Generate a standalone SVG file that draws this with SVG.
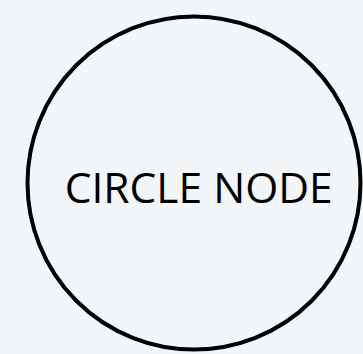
<svg xmlns="http://www.w3.org/2000/svg" width="363" height="354" viewBox="0 0 363 354">
<style>
.node-shape{fill:none;stroke:#000;stroke-width:4}
.label{font-family:"Open Sans","Noto Sans",sans-serif;font-size:42.5px;fill:#000;text-anchor:middle}
</style>
<rect width="363" height="354" fill="#f3f6f8"/>
<g id="connectors"></g>
<g id="circle-node">
<circle class="node-shape" cx="194" cy="183" r="166.5"/>
<text class="label" x="198.7" y="202.7">CIRCLE NODE</text>
</g>
</svg>
